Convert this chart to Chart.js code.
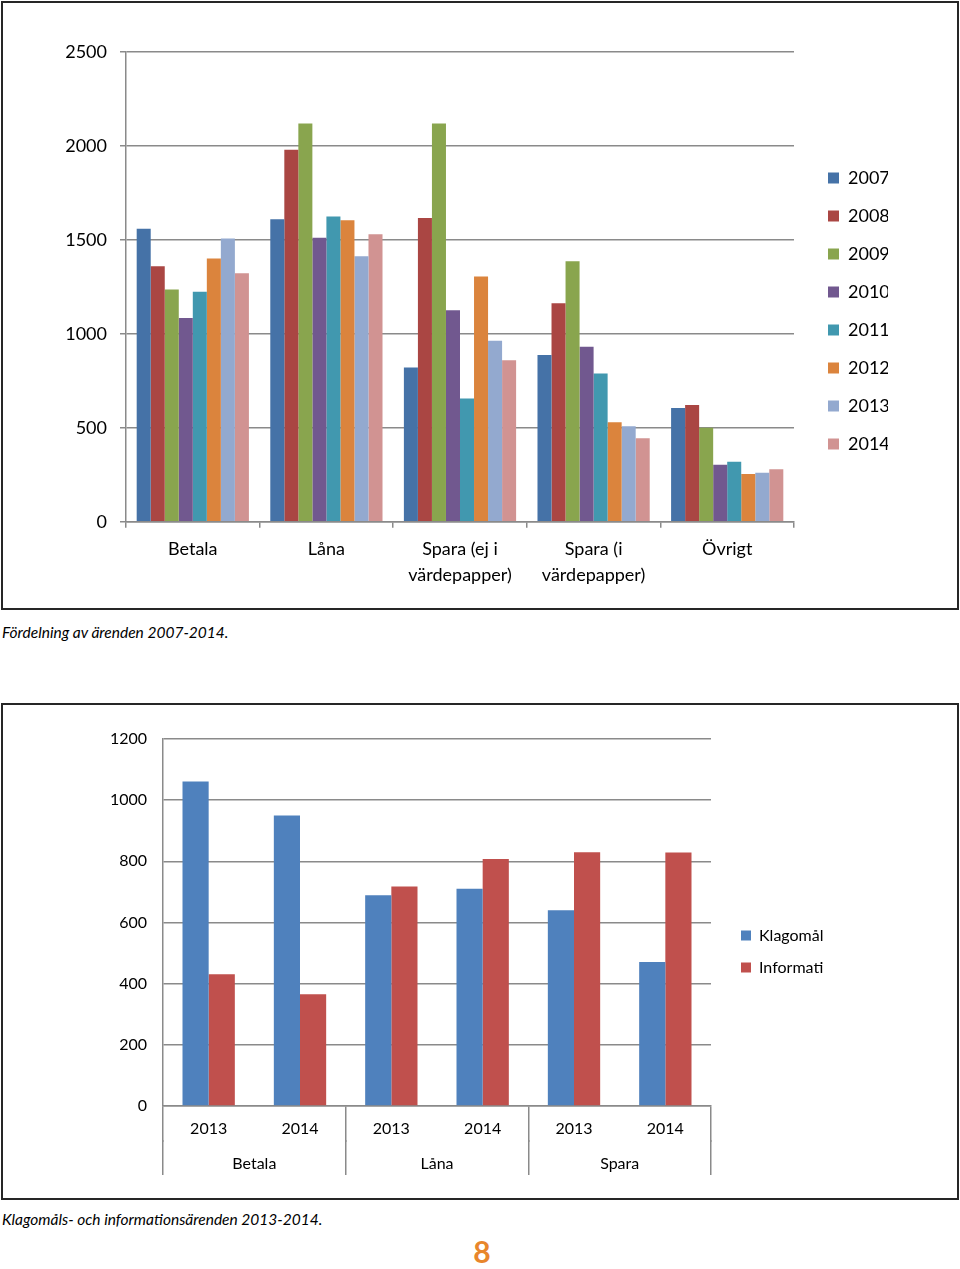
<!DOCTYPE html>
<html lang="sv">
<head>
<meta charset="utf-8">
<title>Ärenden</title>
<script src="https://cdn.jsdelivr.net/npm/chart.js@4.4.1/dist/chart.umd.min.js"></script>
<style>
  body { margin: 0; background: #fff; font-family: Lato, "Open Sans", sans-serif; color: #000; }
  .page { position: relative; width: 960px; height: 1269px; }
  .box { position: absolute; left: 1px; width: 954px; border: 2px solid #262626; }
  #box1 { top: 1px; height: 605px; }
  #box2 { top: 703px; height: 493px; }
  .box canvas { display: block; }
  .caption { position: absolute; left: 2px; font-style: italic; font-size: 15.5px; }
  #cap1 { top: 623px; }
  #cap2 { top: 1210px; }
  #pageno { position: absolute; left: 0; width: 964px; top: 1233px; text-align: center; font-weight: bold; font-size: 30px; color: #e8862c; }
</style>
</head>
<body>
<div class="page">
  <div class="box" id="box1"><canvas id="arendenChart" width="954" height="605"></canvas></div>
  <div class="caption" id="cap1">Fördelning av ärenden 2007-2014.</div>
  <div class="box" id="box2"><canvas id="klagomalChart" width="954" height="493"></canvas></div>
  <div class="caption" id="cap2">Klagomåls- och informationsärenden 2013-2014.</div>
  <div id="pageno">8</div>
</div>
<script>
// Diagram 1: fördelning av ärenden 2007-2014
const categories = ['Betala', 'Låna', ['Spara (ej i', 'värdepapper)'], ['Spara (i', 'värdepapper)'], 'Övrigt'];
const years = ['2007', '2008', '2009', '2010', '2011', '2012', '2013', '2014'];
const series2007 = [1560, 1610, 821, 887, 606];
const series2008 = [1360, 1980, 1616, 1163, 622];
const series2009 = [1236, 2120, 2120, 1387, 500];
const series2010 = [1084, 1512, 1126, 931, 303];
const series2011 = [1224, 1624, 656, 789, 319];
const series2012 = [1401, 1605, 1305, 530, 255];
const series2013 = [1507, 1413, 963, 509, 261];
const series2014 = [1323, 1530, 860, 445, 280];
const yTicks1 = [0, 500, 1000, 1500, 2000, 2500];

// Diagram 2: klagomål och information 2013-2014
const groups = ['Betala', 'Låna', 'Spara'];
const periods = ['2013', '2014', '2013', '2014', '2013', '2014'];
const klagomal = [1061, 950, 689, 710, 640, 471];
const information = [431, 365, 718, 808, 830, 829];
const yTicks2 = [0, 200, 400, 600, 800, 1000, 1200];

const yearColors = ['#4572a7', '#aa4643', '#89a54e', '#71588f', '#4198af', '#db843d', '#93a9cf', '#d19392'];
const gridColor = '#8a8a8a';
const font = 'Lato, "Open Sans", sans-serif';

// flyttar legenden lite från diagramytan
const legendShift = {
  id: 'legendShift',
  afterLayout(chart, args, opts) {
    const lg = chart.legend;
    if (!lg) return;
    lg.left += opts.x || 0;
    lg.right += opts.x || 0;
    lg.top += opts.y || 0;
    lg.bottom += opts.y || 0;
  }
};

Chart.defaults.font.family = font;
Chart.defaults.color = '#000';

// inga tusentalsavgränsare
const plainNumber = v => String(v);

function initArendenChart() {
  const ctx = document.getElementById('arendenChart').getContext('2d');
  const allSeries = [series2007, series2008, series2009, series2010, series2011, series2012, series2013, series2014];

  new Chart(ctx, {
    type: 'bar',
    data: {
      labels: categories,
      datasets: years.map((y, i) => ({
        label: y,
        data: allSeries[i],
        backgroundColor: yearColors[i],
        borderWidth: 0,
        categoryPercentage: 0.84,
        barPercentage: 1.0
      }))
    },
    plugins: [legendShift],
    options: {
      responsive: false,
      animation: false,
      layout: { padding: { top: 49, bottom: 12, left: 0, right: 83 } },
      plugins: {
        tooltip: { enabled: false },
        legend: {
          position: 'right',
          maxWidth: 80,
          labels: { boxWidth: 11, boxHeight: 11, padding: 20, font: { size: 18 }, color: '#000' }
        },
        legendShift: { x: 14, y: -13 }
      },
      scales: {
        y: {
          min: 0,
          max: 2500,
          afterBuildTicks: s => { s.ticks = yTicks1.map(v => ({ value: v })); },
          afterFit: s => { s.width = 123; },
          ticks: { font: { size: 18 }, padding: 13, color: '#000', callback: plainNumber },
          grid: { color: gridColor, lineWidth: 1.5, tickLength: 6 },
          border: { color: gridColor, width: 1.5 }
        },
        x: {
          ticks: { font: { size: 18, lineHeight: 1.45 }, padding: 8, color: '#000', maxRotation: 0 },
          grid: { offset: true, drawOnChartArea: false, tickLength: 6, color: gridColor, lineWidth: 1.5 },
          border: { color: gridColor, width: 1.5 }
        }
      }
    }
  });
}

function initKlagomalChart() {
  const ctx = document.getElementById('klagomalChart').getContext('2d');

  new Chart(ctx, {
    type: 'bar',
    data: {
      labels: periods,
      datasets: [{
        label: 'Klagomål',
        data: klagomal,
        backgroundColor: '#4f81bd',
        borderWidth: 0,
        categoryPercentage: 0.573,
        barPercentage: 1.0
      }, {
        label: 'Informati',
        data: information,
        backgroundColor: '#c0504d',
        borderWidth: 0,
        categoryPercentage: 0.573,
        barPercentage: 1.0
      }]
    },
    plugins: [legendShift],
    options: {
      responsive: false,
      animation: false,
      layout: { padding: { top: 34, bottom: 22, left: 0, right: 146 } },
      plugins: {
        tooltip: { enabled: false },
        legend: {
          position: 'right',
          maxWidth: 100,
          labels: { boxWidth: 10, boxHeight: 10, padding: 16, font: { size: 16 }, color: '#000' }
        },
        legendShift: { x: 14, y: -6 }
      },
      scales: {
        y: {
          min: 0,
          max: 1200,
          afterBuildTicks: s => { s.ticks = yTicks2.map(v => ({ value: v })); },
          afterFit: s => { s.width = 160; },
          ticks: { font: { size: 16 }, padding: 16, color: '#000', callback: plainNumber },
          grid: { color: gridColor, lineWidth: 1.5, drawTicks: false },
          border: { color: gridColor, width: 1.5 }
        },
        x: {
          afterFit: s => { s.height = 34; },
          ticks: { font: { size: 16 }, padding: -22.6, color: '#000', maxRotation: 0 },
          grid: {
            offset: true,
            drawOnChartArea: false,
            tickLength: 36,
            lineWidth: 1.5,
            // bara linjer mellan grupperna
            color: c => (c.index === undefined || c.index % 2 === 0) ? gridColor : 'rgba(0,0,0,0)'
          },
          border: { color: gridColor, width: 1.5 }
        },
        x2: {
          type: 'category',
          labels: groups,
          position: 'bottom',
          offset: true,
          afterFit: s => { s.height = 36; },
          ticks: { font: { size: 16 }, padding: -20.6, color: '#000', maxRotation: 0 },
          grid: { offset: true, drawOnChartArea: false, tickLength: 35, color: gridColor, lineWidth: 1.5 },
          border: { display: false }
        }
      }
    }
  });
}

window.addEventListener('DOMContentLoaded', () => {
  initArendenChart();
  initKlagomalChart();
});
</script>
</body>
</html>
